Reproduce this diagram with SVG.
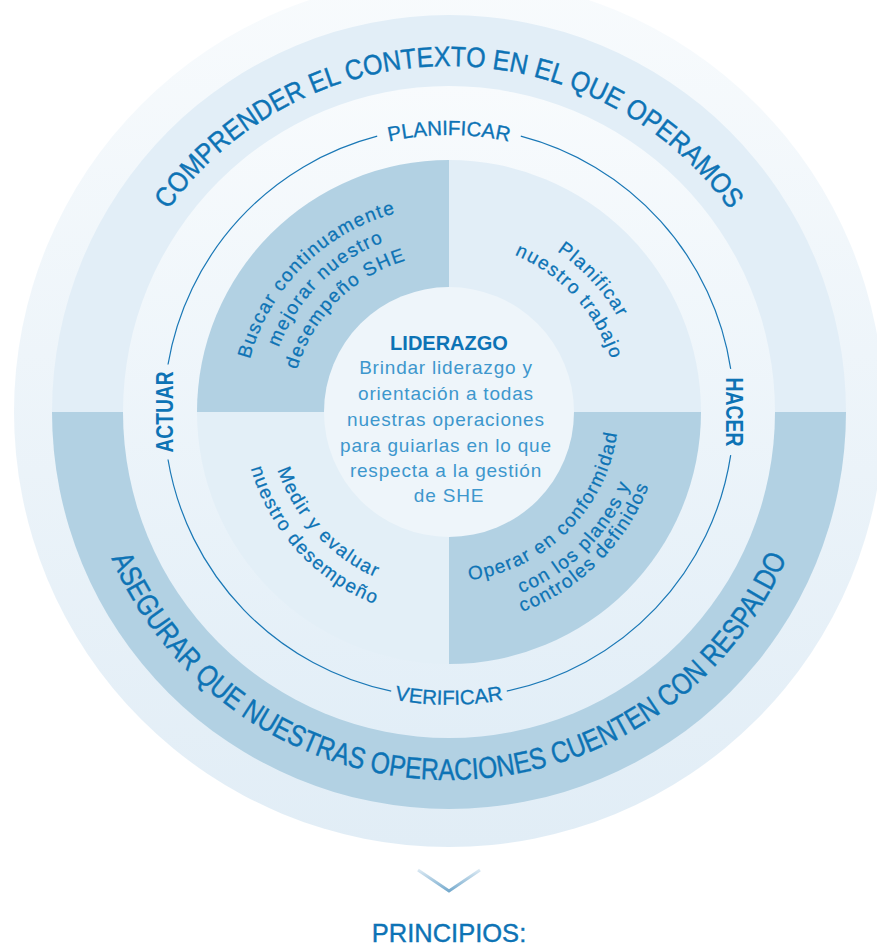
<svg xmlns="http://www.w3.org/2000/svg" width="877" height="947" viewBox="0 0 877 947">
<defs>
<linearGradient id="gOuter" x1="0" y1="0" x2="0" y2="1">
<stop offset="0" stop-color="#f8fbfd"/><stop offset="1" stop-color="#e1edf6"/>
</linearGradient>
<linearGradient id="gMid" x1="0" y1="0" x2="0" y2="1">
<stop offset="0" stop-color="#f8fbfd"/><stop offset="1" stop-color="#e2eef7"/>
</linearGradient>
<linearGradient id="gChev" gradientUnits="userSpaceOnUse" x1="449" y1="868" x2="449" y2="892">
<stop offset="0" stop-color="#e3eef6"/><stop offset="1" stop-color="#72a8cc"/>
</linearGradient>
<path id="pTop" d="M103,412 A346,346 0 0 1 795,412"/>
<path id="pBot" d="M81,412 A368,368 0 0 0 817,412"/>
<path id="pPlan" d="M172,412 A277,277 0 0 1 726,412"/>
<path id="pVer" d="M156,412 A293,293 0 0 0 742,412"/>
<path id="pTL1" d="M303.3,557.7 A206,206 0 0 1 594.7,266.3"/>
<path id="pTL2" d="M318.9,542.1 A184,184 0 0 1 579.1,281.9"/>
<path id="pTL3" d="M334.5,526.5 A162,162 0 0 1 563.5,297.5"/>
<path id="pTR1" d="M316.6,267.5 A196,196 0 0 1 581.4,556.5"/>
<path id="pTR2" d="M332.8,285.2 A172,172 0 0 1 565.2,538.8"/>
<path id="pBL1" d="M326.7,278.5 A181,181 0 0 0 571.3,545.5"/>
<path id="pBL2" d="M309.8,260.1 A206,206 0 0 0 588.2,563.9"/>
<path id="pBR1" d="M327.4,533.6 A172,172 0 0 0 570.6,290.4"/>
<path id="pBR2" d="M311.1,549.9 A195,195 0 0 0 586.9,274.1"/>
<path id="pBR3" d="M294.9,566.1 A218,218 0 0 0 603.1,257.9"/>
</defs>
<style>
text{font-family:"Liberation Sans",Arial,sans-serif;fill:#0d73b5}
.big{font-size:28px;stroke:#0d73b5;stroke-width:0.4}
.bot{font-size:30px;stroke:#0d73b5;stroke-width:0.4}
.phase{font-size:20.5px;stroke:#0d73b5;stroke-width:0.3}
.side{font-size:23px;font-weight:bold}
.q{font-size:19px;letter-spacing:1.4px;stroke:#0d73b5;stroke-width:0.25}
.head{font-size:20px;font-weight:bold}
.body{font-size:19px;letter-spacing:0.8px;fill:#3d97cd}
.dark{fill:#b2d1e3}
.light{fill:#e2eef7}
.ring{fill:none;stroke:#1a78b6;stroke-width:1.2}
</style>
<g id="outer-context">
<circle cx="449" cy="412" r="435" fill="url(#gOuter)"/>
</g>
<g id="band-comprender">
<path class="light" d="M52,412 A397,397 0 0 1 846,412 Z"/>
<text class="big"><textPath href="#pTop" startOffset="50%" text-anchor="middle" textLength="655" lengthAdjust="spacingAndGlyphs">COMPRENDER EL CONTEXTO EN EL QUE OPERAMOS</textPath></text>
</g>
<g id="band-asegurar">
<path class="dark" d="M52,412 A397,397 0 0 0 846,412 Z"/>
</g>
<g id="inner-ring">
<circle cx="449" cy="412" r="326" fill="url(#gMid)"/>
</g>
<g id="band-asegurar-text">
<text class="bot"><textPath href="#pBot" startOffset="50%" text-anchor="middle" textLength="855" lengthAdjust="spacingAndGlyphs">ASEGURAR QUE NUESTRAS OPERACIONES CUENTEN CON RESPALDO</textPath></text>
</g>
<g id="q-actuar">
<path class="dark" d="M449,412 L197,412 A252,252 0 0 1 449,160 Z"/>
<text class="q"><textPath href="#pTL1" startOffset="50%" text-anchor="middle">Buscar continuamente</textPath></text>
<text class="q"><textPath href="#pTL2" startOffset="50%" text-anchor="middle">mejorar nuestro</textPath></text>
<text class="q"><textPath href="#pTL3" startOffset="50%" text-anchor="middle">desempeño SHE</textPath></text>
</g>
<g id="q-planificar">
<path class="light" d="M449,412 L449,160 A252,252 0 0 1 701,412 Z"/>
<text class="q"><textPath href="#pTR1" startOffset="50%" text-anchor="middle">Planificar</textPath></text>
<text class="q"><textPath href="#pTR2" startOffset="50%" text-anchor="middle">nuestro trabajo</textPath></text>
</g>
<g id="q-hacer">
<path class="dark" d="M449,412 L701,412 A252,252 0 0 1 449,664 Z"/>
<text class="q"><textPath href="#pBR1" startOffset="50%" text-anchor="middle">Operar en conformidad</textPath></text>
<text class="q"><textPath href="#pBR2" startOffset="50%" text-anchor="middle">con los planes y</textPath></text>
<text class="q"><textPath href="#pBR3" startOffset="50%" text-anchor="middle">controles definidos</textPath></text>
</g>
<g id="q-verificar">
<path fill="#e3eff7" d="M449,412 L449,664 A252,252 0 0 1 197,412 Z"/>
<text class="q"><textPath href="#pBL1" startOffset="50%" text-anchor="middle">Medir y evaluar</textPath></text>
<text class="q"><textPath href="#pBL2" startOffset="50%" text-anchor="middle">nuestro desempeño</textPath></text>
</g>
<g id="liderazgo">
<circle cx="449" cy="412" r="125" fill="#eef5fa"/>
<text class="head" x="449" y="350" text-anchor="middle">LIDERAZGO</text>
<text class="body" text-anchor="middle">
<tspan x="449" y="374">Brindar liderazgo y</tspan>
<tspan x="449" y="400">orientación a todas</tspan>
<tspan x="449" y="426">nuestras operaciones</tspan>
<tspan x="449" y="452">para guiarlas en lo que</tspan>
<tspan x="449" y="477">respecta a la gestión</tspan>
<tspan x="449" y="502">de SHE</tspan>
</text>
</g>
<g id="connectors">
<path class="ring" d="M520.8,136.2 A285,285 0 0 1 730.7,368.9"/>
<path class="ring" d="M730.7,455.1 A285,285 0 0 1 506.8,691.1"/>
<path class="ring" d="M391.2,691.1 A285,285 0 0 1 168.0,459.5"/>
<path class="ring" d="M168.0,364.5 A285,285 0 0 1 377.2,136.2"/>
<polyline points="418,870 449,891 480,870" fill="none" stroke="url(#gChev)" stroke-width="3"/>
</g>
<g id="phase-labels">
<text class="phase"><textPath href="#pPlan" startOffset="50%" text-anchor="middle">PLANIFICAR</textPath></text>
<text class="phase"><textPath href="#pVer" startOffset="50%" text-anchor="middle">VERIFICAR</textPath></text>
<text class="side" transform="translate(173,412) rotate(-90)" text-anchor="middle" textLength="81" lengthAdjust="spacingAndGlyphs">ACTUAR</text>
<text class="side" transform="translate(726,412) rotate(90)" text-anchor="middle" textLength="69" lengthAdjust="spacingAndGlyphs">HACER</text>
</g>
<g id="principios">
<text x="449" y="942" text-anchor="middle" font-size="25.5" stroke="#0d73b5" stroke-width="0.4">PRINCIPIOS:</text>
</g>
</svg>
